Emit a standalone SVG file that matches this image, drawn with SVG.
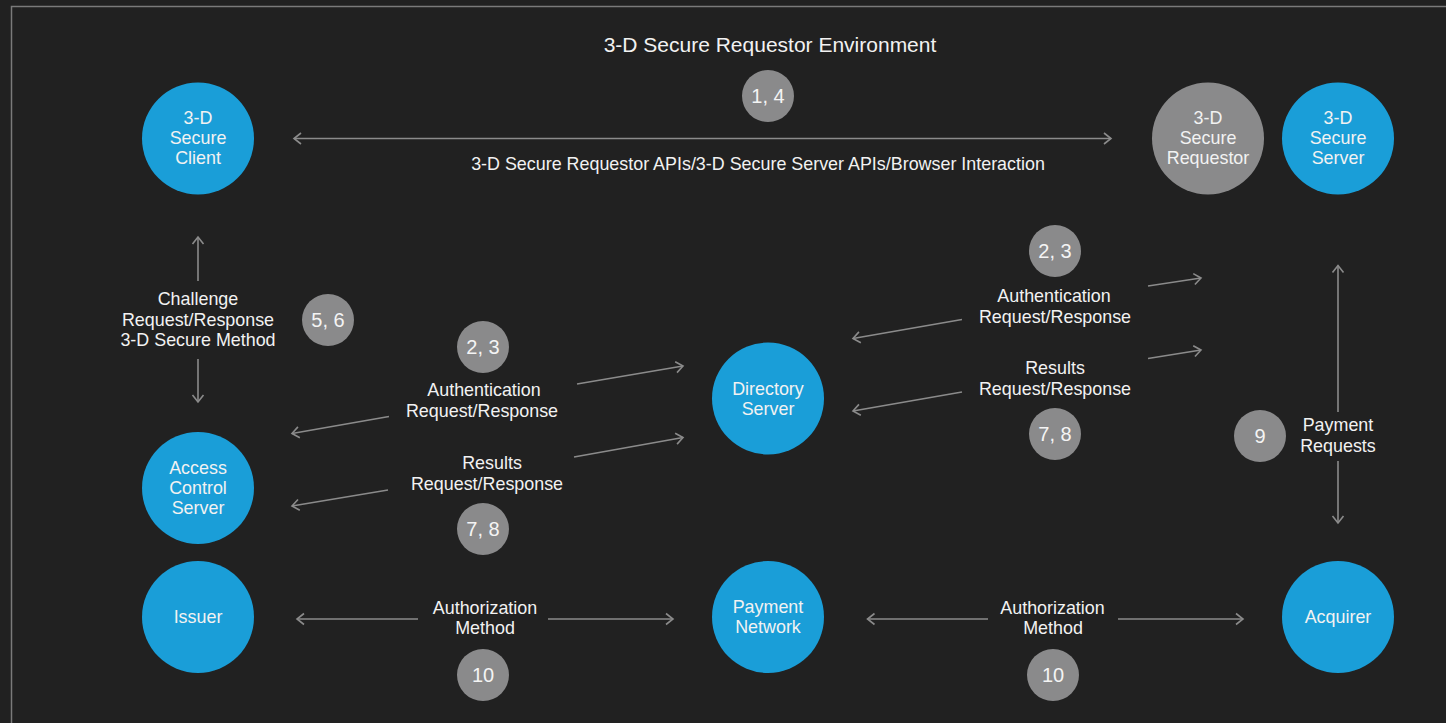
<svg xmlns="http://www.w3.org/2000/svg" width="1446" height="723" viewBox="0 0 1446 723">
<defs>
<style>
.bg{fill:#212121}
.frame{fill:none;stroke:#7a7a7a;stroke-width:1.5}
.blue{fill:#1a9ed8}
.gray{fill:#8a8a8b}
.t{font-family:"Liberation Sans",Arial,sans-serif;font-size:17.9px;fill:#f2f2f2;text-anchor:middle}
.num{font-family:"Liberation Sans",Arial,sans-serif;font-size:20px;fill:#f4f4f4;text-anchor:middle}
.title{font-family:"Liberation Sans",Arial,sans-serif;font-size:21px;fill:#f2f2f2;text-anchor:middle}
.ln{fill:none;stroke:#8b8b8b;stroke-width:1.6}
</style>
<marker id="ah" markerUnits="userSpaceOnUse" viewBox="0 0 10 14" markerWidth="10" markerHeight="14" refX="8" refY="7" orient="auto-start-reverse">
<path d="M1,1.5 L8,7 L1,12.5" fill="none" stroke="#8b8b8b" stroke-width="1.6"/>
</marker>
</defs>
<rect class="bg" x="0" y="0" width="1446" height="723"/>
<rect class="frame" x="11.5" y="6.5" width="1460" height="740"/>

<text class="title" x="770" y="52">3-D Secure Requestor Environment</text>

<g id="connectors">
<line class="ln" x1="294" y1="138.5" x2="1111" y2="138.5" marker-start="url(#ah)" marker-end="url(#ah)"/>
<line class="ln" x1="198" y1="281" x2="198" y2="237" marker-end="url(#ah)"/>
<line class="ln" x1="198" y1="359" x2="198" y2="402" marker-end="url(#ah)"/>
<line class="ln" x1="577" y1="384" x2="683" y2="366" marker-end="url(#ah)"/>
<line class="ln" x1="389" y1="416.5" x2="292" y2="433.5" marker-end="url(#ah)"/>
<line class="ln" x1="574" y1="457" x2="683" y2="437.5" marker-end="url(#ah)"/>
<line class="ln" x1="388" y1="490" x2="292" y2="506" marker-end="url(#ah)"/>
<line class="ln" x1="1148" y1="286" x2="1201" y2="278" marker-end="url(#ah)"/>
<line class="ln" x1="962" y1="319.5" x2="853" y2="338.5" marker-end="url(#ah)"/>
<line class="ln" x1="1148" y1="358.5" x2="1201" y2="350" marker-end="url(#ah)"/>
<line class="ln" x1="962" y1="392" x2="853" y2="411" marker-end="url(#ah)"/>
<line class="ln" x1="1338" y1="412" x2="1338" y2="265.5" marker-end="url(#ah)"/>
<line class="ln" x1="1338" y1="461" x2="1338" y2="523" marker-end="url(#ah)"/>
<line class="ln" x1="418" y1="619" x2="297" y2="619" marker-end="url(#ah)"/>
<line class="ln" x1="548" y1="619" x2="673" y2="619" marker-end="url(#ah)"/>
<line class="ln" x1="988" y1="619" x2="867.5" y2="619" marker-end="url(#ah)"/>
<line class="ln" x1="1118" y1="619" x2="1243" y2="619" marker-end="url(#ah)"/>
<text class="t" x="758" y="170">3-D Secure Requestor APIs/3-D Secure Server APIs/Browser Interaction</text>
<text class="t" x="198" y="305">Challenge</text>
<text class="t" x="198" y="325.5">Request/Response</text>
<text class="t" x="198" y="346">3-D Secure Method</text>
<text class="t" x="484" y="396">Authentication</text>
<text class="t" x="482" y="416.5">Request/Response</text>
<text class="t" x="492" y="469">Results</text>
<text class="t" x="487" y="489.5">Request/Response</text>
<text class="t" x="1054" y="302">Authentication</text>
<text class="t" x="1055" y="322.5">Request/Response</text>
<text class="t" x="1055" y="374">Results</text>
<text class="t" x="1055" y="394.5">Request/Response</text>
<text class="t" x="1338" y="431">Payment</text>
<text class="t" x="1338" y="451.5">Requests</text>
<text class="t" x="485" y="613.5">Authorization</text>
<text class="t" x="485" y="634">Method</text>
<text class="t" x="1052.5" y="613.5">Authorization</text>
<text class="t" x="1053" y="634">Method</text>
</g>

<g id="step-1-4"><circle class="gray" cx="768" cy="96" r="26"/><text class="num" x="768" y="103">1, 4</text></g>
<g id="step-5-6"><circle class="gray" cx="328" cy="320" r="26"/><text class="num" x="328" y="327">5, 6</text></g>
<g id="step-2-3-left"><circle class="gray" cx="483" cy="347" r="26"/><text class="num" x="483" y="354">2, 3</text></g>
<g id="step-7-8-left"><circle class="gray" cx="483" cy="529" r="26"/><text class="num" x="483" y="536">7, 8</text></g>
<g id="step-2-3-right"><circle class="gray" cx="1055" cy="251" r="26"/><text class="num" x="1055" y="258">2, 3</text></g>
<g id="step-7-8-right"><circle class="gray" cx="1055" cy="434" r="26"/><text class="num" x="1055" y="441">7, 8</text></g>
<g id="step-9"><circle class="gray" cx="1260" cy="436" r="26"/><text class="num" x="1260" y="443">9</text></g>
<g id="step-10-left"><circle class="gray" cx="483" cy="675" r="26"/><text class="num" x="483" y="682">10</text></g>
<g id="step-10-right"><circle class="gray" cx="1053" cy="675" r="26"/><text class="num" x="1053" y="682">10</text></g>

<g id="secure-client"><circle class="blue" cx="198" cy="138.5" r="56"/><text class="t" x="198" y="124">3-D</text><text class="t" x="198" y="144">Secure</text><text class="t" x="198" y="164">Client</text></g>
<g id="secure-requestor"><circle class="gray" cx="1208" cy="138.5" r="56"/><text class="t" x="1208" y="124">3-D</text><text class="t" x="1208" y="144">Secure</text><text class="t" x="1208" y="164">Requestor</text></g>
<g id="secure-server"><circle class="blue" cx="1338" cy="138.5" r="56"/><text class="t" x="1338" y="124">3-D</text><text class="t" x="1338" y="144">Secure</text><text class="t" x="1338" y="164">Server</text></g>
<g id="access-control-server"><circle class="blue" cx="198" cy="488" r="56"/><text class="t" x="198" y="474">Access</text><text class="t" x="198" y="494">Control</text><text class="t" x="198" y="514">Server</text></g>
<g id="directory-server"><circle class="blue" cx="768" cy="398.5" r="56"/><text class="t" x="768" y="395">Directory</text><text class="t" x="768" y="415">Server</text></g>
<g id="issuer"><circle class="blue" cx="198" cy="617" r="56"/><text class="t" x="198" y="623">Issuer</text></g>
<g id="payment-network"><circle class="blue" cx="768" cy="617" r="56"/><text class="t" x="768" y="613">Payment</text><text class="t" x="768" y="633">Network</text></g>
<g id="acquirer"><circle class="blue" cx="1338" cy="617" r="56"/><text class="t" x="1338" y="623">Acquirer</text></g>
</svg>
